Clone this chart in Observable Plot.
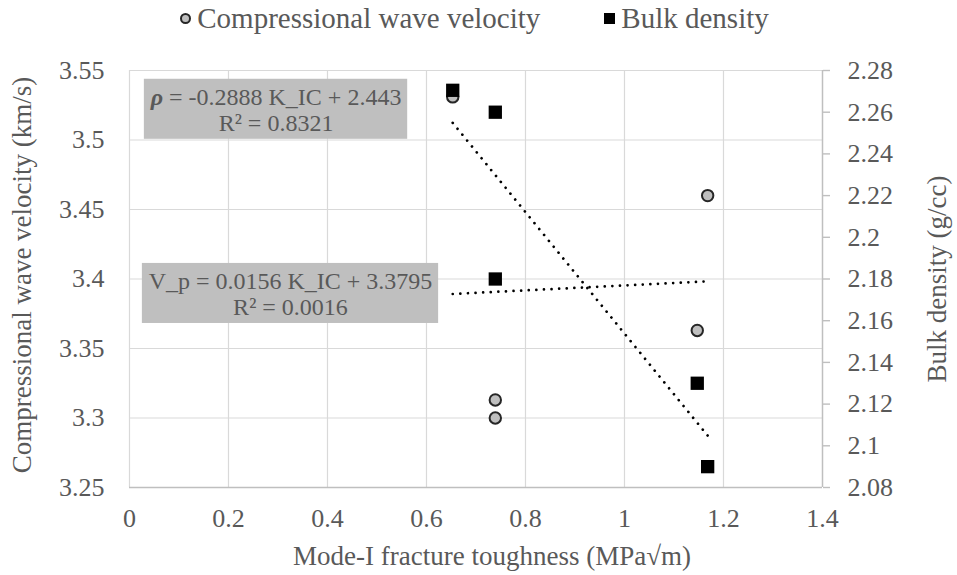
<!DOCTYPE html>
<html>
<head>
<meta charset="utf-8">
<script src="https://cdn.jsdelivr.net/npm/d3@7"></script>
<script src="https://cdn.jsdelivr.net/npm/@observablehq/plot@0.6"></script>
<style>
  body { margin: 0; background: #fff; font-family: "Liberation Serif", "Times New Roman", serif; }
  #wrap { width: 957px; height: 575px; overflow: hidden; }
  #legend { height: 36px; display: flex; justify-content: center; align-items: center; color: #595959; font-size: 29px; padding-right: 8px; }
  #legend .item { display: flex; align-items: center; }
  #legend .item + .item { margin-left: 64px; }
  #legend .mk { display: inline-block; width: 11px; height: 11px; margin-right: 6px; box-sizing: border-box; }
  #legend .circ { border-radius: 50%; background: #bfbfbf; border: 2px solid #262626; }
  #legend .sq { background: #000; }
  #chart svg text { font-family: "Liberation Serif", "Times New Roman", serif; }
</style>
</head>
<body>
<div id="wrap">
  <div id="legend"></div>
  <div id="chart"></div>
</div>
<script>
// ---- data ----
const seriesNames = ["Compressional wave velocity", "Bulk density"];
const velocityK = [0.653, 0.739, 0.739, 1.147, 1.168];
const velocity  = [3.531, 3.313, 3.300, 3.363, 3.460];
const densityK  = [0.653, 0.739, 0.739, 1.147, 1.168];
const density   = [2.2705, 2.260, 2.180, 2.130, 2.090];

const xTicks = [0, 0.2, 0.4, 0.6, 0.8, 1, 1.2, 1.4];
const vTicks = [3.25, 3.3, 3.35, 3.4, 3.45, 3.5, 3.55];
const dTicks = [2.08, 2.1, 2.12, 2.14, 2.16, 2.18, 2.2, 2.22, 2.24, 2.26, 2.28];

const xTitle = "Mode-I fracture toughness (MPa√m)";
const yLeftTitle = "Compressional wave velocity (km/s)";
const yRightTitle = "Bulk density (g/cc)";

const eqTexts = ["ρ = -0.2888 K_IC + 2.443\nR² = 0.8321", "V_p = 0.0156 K_IC + 3.3795\nR² = 0.0016"];
// annotation box extents (data units)
const eqX1 = [0.030, 0.026];
const eqX2 = [0.562, 0.6245];
const eqY1 = [3.5005, 3.368];
const eqY2 = [3.5437, 3.4112];

// ---- secondary axis mapping (density -> velocity scale) ----
const vMin = vTicks[0], vMax = vTicks[vTicks.length - 1];
const dMin = dTicks[0], dMax = dTicks[dTicks.length - 1];
const toV = d => vMin + (d - dMin) * (vMax - vMin) / (dMax - dMin);
const toD = v => dMin + (v - vMin) * (dMax - dMin) / (vMax - vMin);

const velData = velocityK.map((x, i) => ({x, y: velocity[i]}));
const denData = densityK.map((x, i) => ({x, y: toV(density[i])}));
const eqData = eqTexts.map((t, i) => ({t, x1: eqX1[i], x2: eqX2[i], y1: eqY1[i], y2: eqY2[i]}));

// ---- legend ----
const legend = document.getElementById("legend");
seriesNames.forEach((name, i) => {
  const item = document.createElement("span");
  item.className = "item";
  const mk = document.createElement("span");
  mk.className = "mk " + (i === 0 ? "circ" : "sq");
  const tx = document.createElement("span");
  tx.textContent = name;
  item.appendChild(mk); item.appendChild(tx);
  legend.appendChild(item);
});

const grey = "#595959";
const ff = "Liberation Serif";
const dotted = {stroke: "#000", strokeWidth: 2.7, strokeDasharray: "0.01,7.6", strokeLinecap: "round", ci: 0};

const plot = Plot.plot({
  width: 957,
  height: 539,
  marginTop: 34,
  marginBottom: 88,
  marginLeft: 129,
  marginRight: 135,
  x: {domain: [xTicks[0], xTicks[xTicks.length - 1]]},
  y: {domain: [vMin, vMax]},
  style: {fontFamily: "'Liberation Serif', serif", fontSize: "26px", color: grey, background: "#fff"},
  marks: [
    Plot.gridX(xTicks, {stroke: "#d9d9d9", strokeOpacity: 1, strokeWidth: 1.2}),
    Plot.gridY(vTicks, {stroke: "#d9d9d9", strokeOpacity: 1, strokeWidth: 1.2}),
    Plot.ruleY([vMin], {stroke: "#bfbfbf", strokeWidth: 1.4}),
    Plot.ruleX([xTicks[xTicks.length - 1]], {stroke: "#bfbfbf", strokeWidth: 1.4}),
    Plot.axisX(xTicks, {anchor: "bottom", tickSize: 0, tickPadding: 21, tickFormat: d => String(d), label: null, fill: grey, fontFamily: ff, fontSize: 26}),
    Plot.axisY(vTicks, {anchor: "left", tickSize: 0, tickPadding: 25, tickFormat: d => String(d), label: null, fill: grey, fontFamily: ff, fontSize: 26}),
    Plot.axisY(dTicks.map(toV), {anchor: "right", tickSize: 7, tickPadding: 18, stroke: "#bfbfbf", strokeWidth: 1.4, tickFormat: v => String(+toD(v).toFixed(2)), label: null, fill: grey, fontFamily: ff, fontSize: 26}),
    Plot.text([yLeftTitle], {frameAnchor: "left", dx: -107, dy: -4, rotate: -90, textAnchor: "middle", lineAnchor: "middle", fontSize: 27, fill: grey, fontFamily: ff}),
    Plot.text([yRightTitle], {frameAnchor: "right", dx: 115, rotate: -90, textAnchor: "middle", lineAnchor: "middle", fontSize: 27, fill: grey, fontFamily: ff}),
    Plot.text([xTitle], {frameAnchor: "bottom", dy: 69, dx: 16, textAnchor: "middle", lineAnchor: "middle", fontSize: 27, fill: grey, fontFamily: ff}),
    Plot.linearRegressionY(denData, {x: "x", y: "y", ...dotted}),
    Plot.linearRegressionY(velData, {x: "x", y: "y", ...dotted}),
    Plot.rect(eqData, {x1: "x1", x2: "x2", y1: "y1", y2: "y2", fill: "#bfbfbf"}),
    Plot.text(eqData, {x: d => (d.x1 + d.x2) / 2, y: d => (d.y1 + d.y2) / 2, text: "t", fontSize: 24, lineHeight: 1.08, fill: grey, fontFamily: ff}),
    Plot.dot(velData, {x: "x", y: "y", r: 5.7, fill: "#bfbfbf", stroke: "#262626", strokeWidth: 2}),
    Plot.dot(denData, {x: "x", y: "y", r: 7.5, symbol: "square", fill: "#000", stroke: "none"})
  ]
});

// style the rho symbol bold italic
const walker = document.createTreeWalker(plot, NodeFilter.SHOW_TEXT);
const targets = [];
while (walker.nextNode()) { if (walker.currentNode.data.startsWith("ρ")) targets.push(walker.currentNode); }
targets.forEach(node => {
  const ts = document.createElementNS("http://www.w3.org/2000/svg", "tspan");
  ts.setAttribute("font-weight", "bold");
  ts.setAttribute("font-style", "italic");
  ts.textContent = "ρ";
  node.parentNode.insertBefore(ts, node);
  node.data = node.data.slice(1);
});

document.getElementById("chart").appendChild(plot);
</script>
</body>
</html>
